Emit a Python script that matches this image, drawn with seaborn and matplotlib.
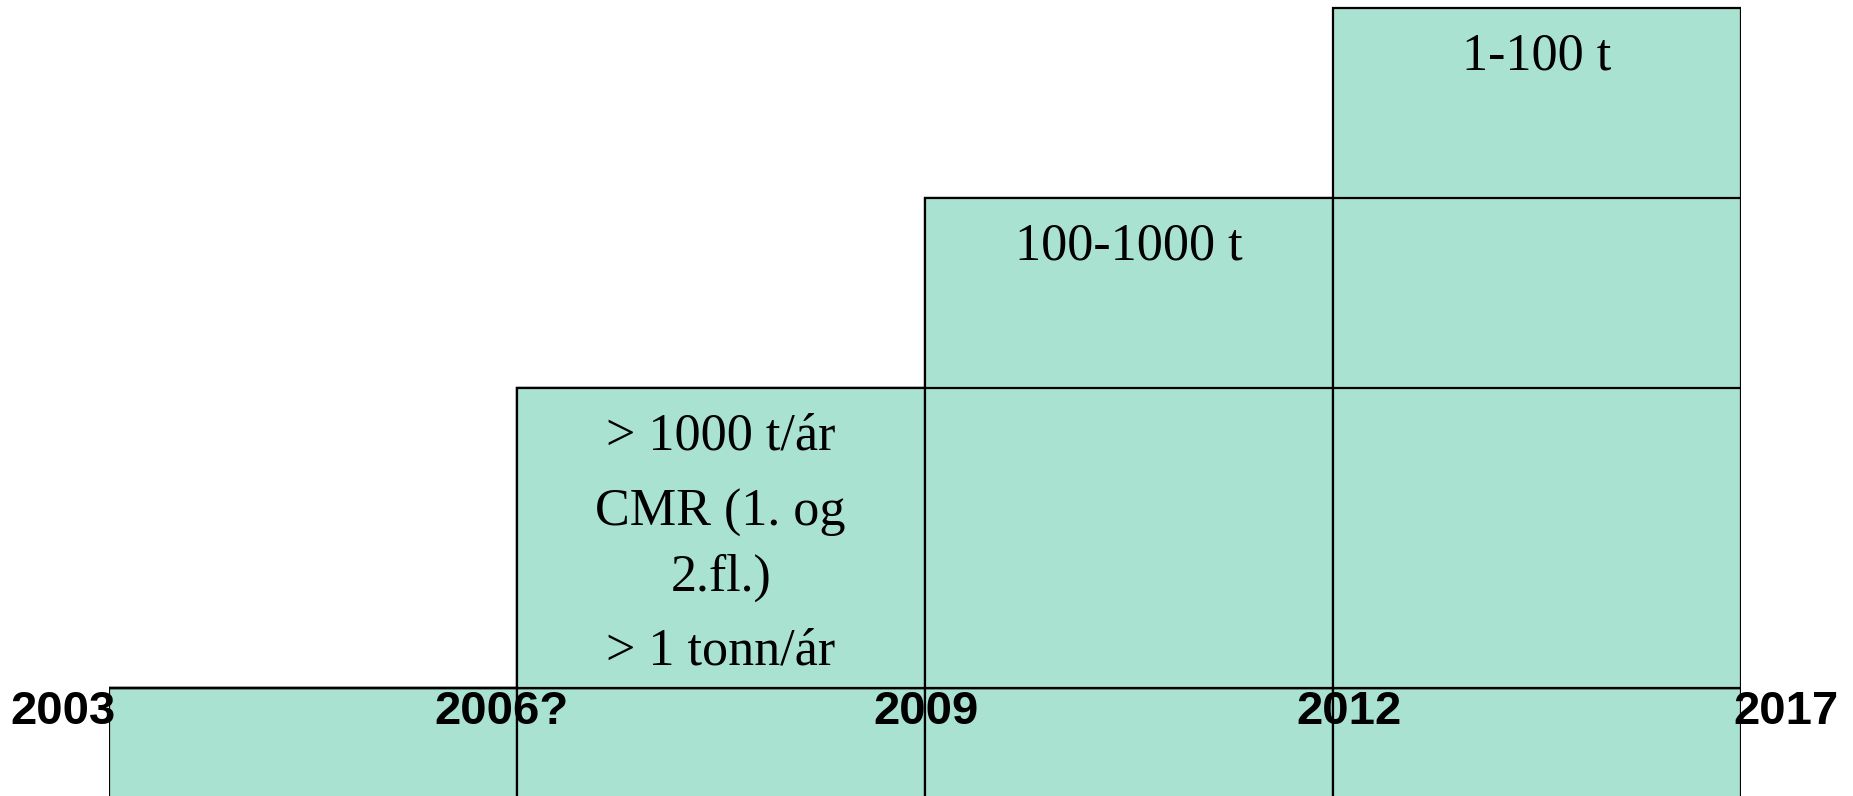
import matplotlib
matplotlib.use("Agg")
import matplotlib.pyplot as plt
import matplotlib.transforms as mtransforms
import seaborn as sns
import numpy as np

# ---- data ----
periods = ["2003–2006?", "2006?–2009", "2009–2012", "2012–2017"]
year_labels = ["2003", "2006?", "2009", "2012", "2017"]
base_row = [-0.6, -0.6, -0.6, -0.6]          # row below the time line
tier_high = [0.0, 1.58, 1.58, 1.58]          # > 1000 t/ár, CMR, > 1 tonn/ár
tier_mid = [0.0, 0.0, 1.0, 1.0]              # 100-1000 t
tier_low = [0.0, 0.0, 0.0, 1.0]              # 1-100 t
high_lines = ["> 1000 t/ár", "CMR (1. og", "2.fl.)", "> 1 tonn/ár"]
mid_text = "100-1000 t"
low_text = "1-100 t"

FILL = "#a9e2d1"
W, H = 1853, 796
sns.set_style("white")

fig = plt.figure(figsize=(W / 100, H / 100), dpi=100)
left_px, right_px = 108.7, 1740.8
ax = fig.add_axes([left_px / W, 0, (right_px - left_px) / W, 1])

cum1 = np.array(tier_high)
cum2 = cum1 + np.array(tier_mid)
cum3 = cum2 + np.array(tier_low)

common = dict(color=FILL, saturation=1, edgecolor="black", linewidth=1.6,
              width=1, errorbar=None, ax=ax)
sns.barplot(x=periods, y=base_row, **common)
sns.barplot(x=periods, y=list(cum3), **common)
sns.barplot(x=periods, y=list(cum2), **common)
sns.barplot(x=periods, y=list(cum1), **common)

px_per_unit = 190.0
ax.set_xlim(-0.5, 3.5)
ax.set_ylim(-108 / px_per_unit, (H - 108) / px_per_unit)
ax.axis("off")

serif = ["Liberation Serif", "DejaVu Serif"]
sans = ["Liberation Sans", "DejaVu Sans"]

def off(dx=0, dy=0):
    return mtransforms.offset_copy(ax.transData, fig=fig, x=dx, y=dy, units="dots")

# text inside boxes
high_offsets = [-62, -138, -203, -277]
for line, dy in zip(high_lines, high_offsets):
    ax.text(1, cum1[1], line, transform=off(0, dy), ha="center", va="baseline",
            fontsize=37.5, family=serif, color="black")
ax.text(2, cum2[2], mid_text, transform=off(0, -62), ha="center", va="baseline",
        fontsize=37.5, family=serif, color="black")
ax.text(3, cum3[3], low_text, transform=off(0, -62), ha="center", va="baseline",
        fontsize=37.5, family=serif, color="black")

# year labels on the time line
boundaries = np.arange(len(year_labels)) - 0.5
x_shift = [-46, -15, 1, 16, 45]
for b, lab, dx in zip(boundaries, year_labels, x_shift):
    ax.text(b, 0, lab, transform=off(dx, -36), ha="center", va="baseline",
            fontsize=34, fontweight="bold", family=sans, color="black",
            clip_on=False)

fig.savefig("out.png", dpi=100)
